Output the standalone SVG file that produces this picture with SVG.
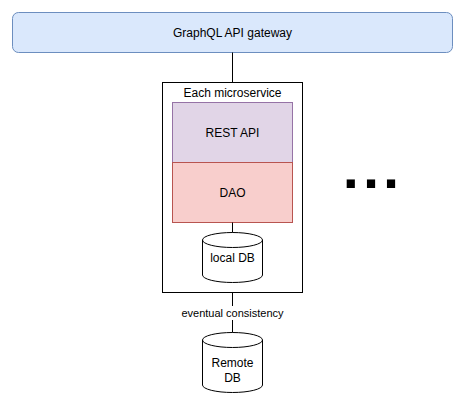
<svg xmlns="http://www.w3.org/2000/svg" width="462" height="402" viewBox="0 0 462 402">
<style>
text{font-family:"Liberation Sans",Arial,sans-serif;font-size:12px;fill:#000;text-anchor:middle}
.ln{stroke:#000;stroke-width:1;fill:none}
</style>
<rect width="462" height="402" fill="#fff"/>
<g id="gateway">
<rect x="12.5" y="12.5" width="440" height="40" rx="6" fill="#dae8fc" stroke="#6c8ebf"/>
<text x="232.5" y="37">GraphQL API gateway</text>
</g>
<g id="microservice">
<rect x="162.5" y="82.5" width="140" height="210" fill="#fff" stroke="#000"/>
<text x="232.5" y="97">Each microservice</text>
</g>
<g id="rest-api">
<rect x="172.5" y="102.5" width="120" height="60" fill="#e1d5e7" stroke="#9673a6"/>
<text x="232.5" y="137">REST API</text>
</g>
<g id="dao">
<rect x="172.5" y="162.5" width="120" height="60" fill="#f8cecc" stroke="#b85450"/>
<text x="232.5" y="197">DAO</text>
</g>
<g id="local-db">
<path d="M202.5 240a30 7.5 0 0 1 60 0v35a30 7.5 0 0 1 -60 0z" fill="#fff" stroke="#000"/>
<path d="M202.5 240a30 7.5 0 0 0 60 0" fill="none" stroke="#000"/>
<text x="232.5" y="262">local DB</text>
</g>
<g id="remote-db">
<path d="M202.5 340a30 7.5 0 0 1 60 0v45a30 7.5 0 0 1 -60 0z" fill="#fff" stroke="#000"/>
<path d="M202.5 340a30 7.5 0 0 0 60 0" fill="none" stroke="#000"/>
<text x="232.5" y="367">Remote</text>
<text x="232.5" y="382">DB</text>
</g>
<g id="ellipsis">
<text x="373" y="188" style="font-size:58px;font-weight:bold;letter-spacing:4px">...</text>
</g>
<g id="connectors">
<path class="ln" d="M232.5 52.5V82.5"/>
<path class="ln" d="M232.5 222.5V232.5"/>
<path class="ln" d="M232.5 292.5V332.5"/>
<rect x="181" y="306" width="103" height="14" fill="#fff"/>
<text x="232.5" y="317" style="font-size:11px">eventual consistency</text>
</g>
</svg>
